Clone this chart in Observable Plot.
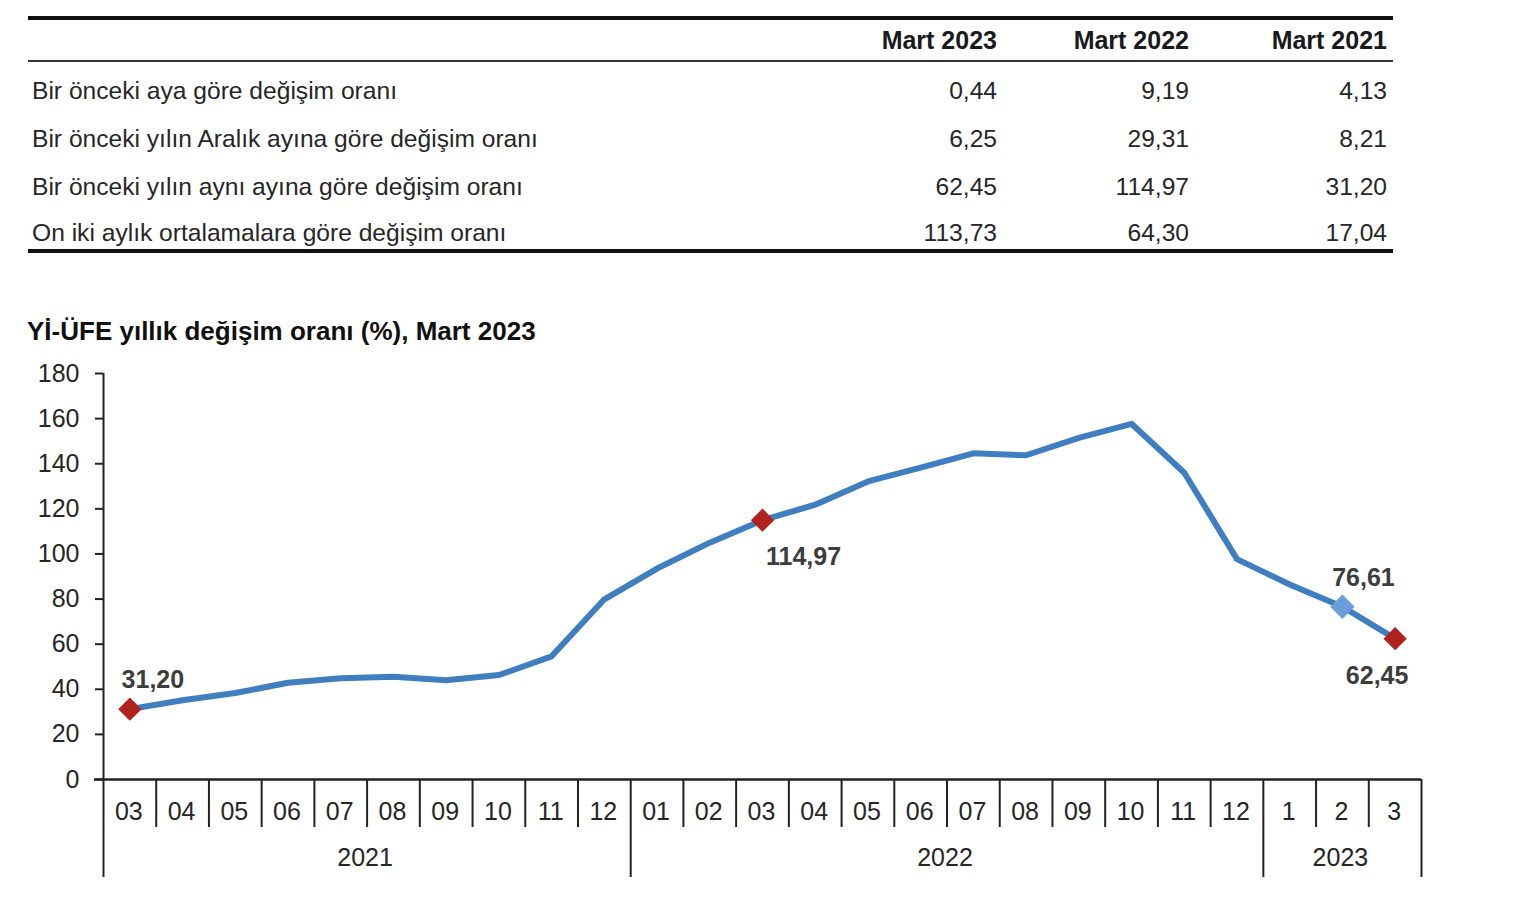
<!DOCTYPE html>
<html><head><meta charset="utf-8">
<script src="https://cdn.jsdelivr.net/npm/d3@7"></script>
<script src="https://cdn.jsdelivr.net/npm/@observablehq/plot@0.6"></script>
<style>
body{margin:0;background:#fff;font-family:"Liberation Sans",Arial,sans-serif;color:#222;width:1522px;height:924px;overflow:hidden;position:relative}
#tbl{position:absolute;left:28px;top:16px;width:1365px}
#tbl table{border-collapse:collapse;width:1365px;table-layout:fixed;font-size:24.6px;color:#262626}
#tbl thead tr{border-top:4px solid #111;border-bottom:2px solid #333}
#tbl tbody tr:last-child{border-bottom:4px solid #111}
#tbl th{font-weight:bold;text-align:right;height:40px;padding:0;vertical-align:middle;font-size:25px;color:#1a1a1a}
#tbl td{padding:0;text-align:right;vertical-align:middle;box-sizing:border-box}
#tbl td.lab{text-align:left;padding-left:4px}
#title{position:absolute;left:27px;top:316px;font-weight:bold;font-size:26px;color:#111;white-space:nowrap}
#chart{position:absolute;left:0;top:350px}
</style></head><body>
<div id="tbl"></div>
<div id="title"></div>
<div id="chart"></div>
<script>
// ---- table data ----
const tableColumns = ["Mart 2023", "Mart 2022", "Mart 2021"];
const rowLabels = [
  "Bir önceki aya göre değişim oranı",
  "Bir önceki yılın Aralık ayına göre değişim oranı",
  "Bir önceki yılın aynı ayına göre değişim oranı",
  "On iki aylık ortalamalara göre değişim oranı"
];
const valuesMart2023 = [0.44, 6.25, 62.45, 113.73];
const valuesMart2022 = [9.19, 29.31, 114.97, 64.30];
const valuesMart2021 = [4.13, 8.21, 31.20, 17.04];

// ---- chart data ----
const chartTitle = "Yİ-ÜFE yıllık değişim oranı (%), Mart 2023";
const months = ["03","04","05","06","07","08","09","10","11","12",
                "01","02","03","04","05","06","07","08","09","10","11","12",
                "1","2","3"];
const years = ["2021", "2022", "2023"];
const monthsPerYear = [10, 12, 3];
const annualChange = [31.20, 35.17, 38.33, 42.89, 44.92, 45.52, 43.96, 46.31, 54.62, 79.89,
                      93.53, 105.01, 114.97, 121.82, 132.16, 138.31, 144.61, 143.75, 151.50, 157.69, 136.02, 97.72,
                      86.46, 76.61, 62.45];
const yTicks = [0, 20, 40, 60, 80, 100, 120, 140, 160, 180];
const redPoints = [0, 12, 24];
const bluePoints = [23];

const fmt = v => d3.format(".2f")(v).replace(".", ",");

// ---- table ----
const colVals = [valuesMart2023, valuesMart2022, valuesMart2021];
const rowPad = [5, 1, 0, 7];
const rowHeights = [53, 49, 47, 41];
let html = '<table><colgroup><col style="width:777px"><col style="width:192px"><col style="width:192px"><col style="width:204px"></colgroup>';
html += '<thead><tr><th></th>' + tableColumns.map((c, j) => `<th style="padding-right:${j === 2 ? 6 : 0}px">${c}</th>`).join("") + '</tr></thead><tbody>';
rowLabels.forEach((l, i) => {
  const pad = `padding-top:${rowPad[i]}px;`;
  html += `<tr style="height:${rowHeights[i]}px"><td class="lab" style="${pad}">${l}</td>` +
    colVals.map((arr, j) => `<td style="${pad}padding-right:${j === 2 ? 6 : 0}px">${fmt(arr[i])}</td>`).join("") + '</tr>';
});
html += '</tbody></table>';
document.getElementById("tbl").innerHTML = html;
document.getElementById("title").textContent = chartTitle;

// ---- chart ----
const data = annualChange.map((v, i) => ({i, v, m: months[i]}));
const yearInfo = [];
let s = 0;
years.forEach((y, k) => { yearInfo.push({year: y, start: s, center: s + (monthsPerYear[k] - 1) / 2}); s += monthsPerYear[k]; });
const yearBounds = [...yearInfo.map(d => d.start - 0.5), months.length - 0.5];
const monthBounds = months.map((_, i) => i - 0.5).filter(b => !yearBounds.includes(b));

const lineColor = "#3f7fc1";
const red = "#b0231c";
const lightBlue = "#6b9fda";
const labelStyle = {fontSize: 25, fontWeight: "bold", fill: "#3d3d3d"};
const pick = idx => data.filter(d => idx.includes(d.i));

const chart = Plot.plot({
  width: 1522, height: 540,
  marginLeft: 103, marginRight: 101, marginTop: 23, marginBottom: 111,
  style: {fontFamily: '"Liberation Sans", Arial, sans-serif', fontSize: "25px", color: "#262626", overflow: "visible", background: "transparent"},
  x: {type: "linear", domain: [-0.5, months.length - 0.5], axis: null},
  y: {domain: [0, 180], axis: null},
  marks: [
    Plot.axisY(yTicks, {anchor: "left", label: null, tickSize: 8, tickPadding: 16, fontSize: 25, stroke: "#222", strokeWidth: 2, fill: "#262626"}),
    Plot.ruleX([-0.5], {y1: 0, y2: 180, stroke: "#222", strokeWidth: 2}),
    Plot.ruleY([0], {x1: -0.5, x2: months.length - 0.5, insetLeft: -9, stroke: "#222", strokeWidth: 2.5}),
    Plot.ruleX(monthBounds, {x: d => d, y1: 0, y2: 0, insetBottom: -48, stroke: "#222", strokeWidth: 2}),
    Plot.ruleX(yearBounds, {x: d => d, y1: 0, y2: 0, insetBottom: -98, stroke: "#222", strokeWidth: 2}),
    Plot.text(data, {x: "i", y: () => 0, text: "m", dx: -1, dy: 32, fontSize: 25, fill: "#262626"}),
    Plot.text(yearInfo, {x: "center", y: () => 0, text: "year", dx: -2, dy: 78, fontSize: 25, fill: "#262626"}),
    Plot.line(data, {x: "i", y: "v", stroke: lineColor, strokeWidth: 6, strokeLinejoin: "round", strokeLinecap: "round"}),
    Plot.dot(pick(redPoints), {x: "i", y: "v", symbol: "diamond2", r: 10.5, fill: red, stroke: "none"}),
    Plot.dot(pick(bluePoints), {x: "i", y: "v", symbol: "diamond2", r: 11, fill: lightBlue, stroke: "none"}),
    Plot.text(pick([0]), {x: "i", y: "v", text: d => fmt(d.v), dx: 23, dy: -29, ...labelStyle}),
    Plot.text(pick([12]), {x: "i", y: "v", text: d => fmt(d.v), dx: 41, dy: 37, ...labelStyle}),
    Plot.text(pick([23]), {x: "i", y: "v", text: d => fmt(d.v), dx: 21, dy: -29, ...labelStyle}),
    Plot.text(pick([24]), {x: "i", y: "v", text: d => fmt(d.v), dx: -18, dy: 37, ...labelStyle})
  ]
});
document.getElementById("chart").appendChild(chart);
</script>
</body></html>
